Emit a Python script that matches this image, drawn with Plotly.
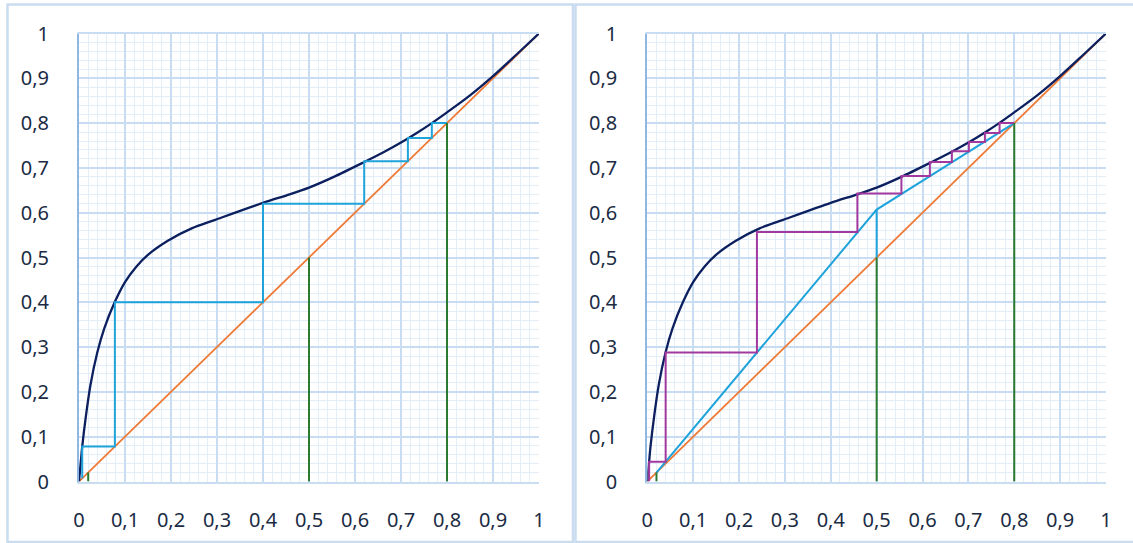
import plotly.graph_objects as go

# ---- data ----
eq_x = [0, 0.004, 0.007, 0.015, 0.025, 0.040, 0.055, 0.078, 0.100, 0.125, 0.151, 0.194, 0.245, 0.296,
        0.40, 0.458, 0.5, 0.554, 0.616, 0.664, 0.701, 0.736, 0.767, 0.8, 0.85, 0.9, 0.95, 1]
eq_y = [0, 0.045, 0.078, 0.146, 0.216, 0.289, 0.342, 0.401, 0.445, 0.480, 0.507, 0.538, 0.565, 0.584,
        0.622, 0.641, 0.656, 0.680, 0.711, 0.736, 0.757, 0.779, 0.800, 0.824, 0.862, 0.905, 0.952, 1]

diag_x = [0, 1]
diag_y = [0, 1]

compositions = [0.02, 0.5, 0.8]          # xW, xF, xD

left_steps_x = [0.8, 0.767, 0.767, 0.715, 0.715, 0.62, 0.62, 0.40, 0.40, 0.078, 0.078, 0.007, 0.007]
left_steps_y = [0.8, 0.8, 0.767, 0.767, 0.715, 0.715, 0.62, 0.62, 0.40, 0.40, 0.078, 0.078, 0.007]

op_x = [0.02, 0.5, 0.8]
op_y = [0.02, 0.607, 0.8]
qline_x = [0.5, 0.5]
qline_y = [0.5, 0.607]

right_steps_x = [0.8, 0.768, 0.768, 0.736, 0.736, 0.701, 0.701, 0.664, 0.664, 0.616, 0.616,
                 0.554, 0.554, 0.458, 0.458, 0.239, 0.239, 0.040, 0.040, 0.004, 0.004]
right_steps_y = [0.8, 0.8, 0.778, 0.778, 0.758, 0.758, 0.737, 0.737, 0.713, 0.713, 0.682,
                 0.682, 0.643, 0.643, 0.557, 0.557, 0.288, 0.288, 0.044, 0.044, 0.0]

tick_vals = [0, 0.1, 0.2, 0.3, 0.4, 0.5, 0.6, 0.7, 0.8, 0.9, 1]
tick_text = ["0", "0,1", "0,2", "0,3", "0,4", "0,5", "0,6", "0,7", "0,8", "0,9", "1"]

# ---- styles ----
NAVY = "#0c1f5e"
ORANGE = "#ee7a36"
LBLUE = "#1fa3da"
PURPLE = "#a2399f"
GREEN = "#2a7a30"
MAJOR = "#c8ddf2"
MINOR = "#e4eef9"
AXIS = "#8fb7e4"
TXT = "#1b2b44"

W, H = 1133, 543
fig = go.Figure()


def add_common(xa, ya, steps_x, steps_y, steps_color, right=False):
    fig.add_trace(go.Scatter(x=diag_x, y=diag_y, mode="lines", xaxis=xa, yaxis=ya,
                             line=dict(color=ORANGE, width=1.8), hoverinfo="skip"))
    if right:
        fig.add_trace(go.Scatter(x=op_x, y=op_y, mode="lines", xaxis=xa, yaxis=ya,
                                 line=dict(color=LBLUE, width=2), hoverinfo="skip"))
        fig.add_trace(go.Scatter(x=qline_x, y=qline_y, mode="lines", xaxis=xa, yaxis=ya,
                                 line=dict(color=LBLUE, width=2), hoverinfo="skip"))
    fig.add_trace(go.Scatter(x=eq_x, y=eq_y, mode="lines", xaxis=xa, yaxis=ya,
                             line=dict(color=NAVY, width=2.3, shape="spline", smoothing=0.8),
                             hoverinfo="skip"))
    fig.add_trace(go.Scatter(x=steps_x, y=steps_y, mode="lines", xaxis=xa, yaxis=ya,
                             line=dict(color=steps_color, width=2), hoverinfo="skip"))
    for c in compositions:
        fig.add_trace(go.Scatter(x=[c, c], y=[0, c], mode="lines", xaxis=xa, yaxis=ya,
                                 line=dict(color=GREEN, width=2), hoverinfo="skip"))


add_common("x", "y", left_steps_x, left_steps_y, LBLUE)
add_common("x2", "y2", right_steps_x, right_steps_y, PURPLE, right=True)

y0 = (H - 481.5) / H
y1 = (H - 33.5) / H
FONT = dict(family="Noto Sans", size=20, color=TXT)


def xaxis(domain, anchor):
    return dict(domain=domain, anchor=anchor, range=[0, 1], tickvals=tick_vals, ticktext=tick_text,
                showgrid=True, gridcolor=MAJOR, gridwidth=1.6, zeroline=False,
                showline=True, linecolor=MAJOR, linewidth=1.6, mirror=True,
                minor=dict(dtick=0.02, showgrid=True, gridcolor=MINOR, gridwidth=1.2),
                ticks="", ticklabelstandoff=20, fixedrange=True, automargin=False,
                tickfont=FONT)


def yaxis(anchor):
    return dict(domain=[y0, y1], anchor=anchor, range=[0, 1], tickvals=tick_vals, ticktext=tick_text,
                showgrid=True, gridcolor=MAJOR, gridwidth=1.6, zeroline=False,
                showline=True, linecolor=AXIS, linewidth=2,
                minor=dict(dtick=0.02, showgrid=True, gridcolor=MINOR, gridwidth=1.2),
                ticks="", ticklabelstandoff=24, fixedrange=True, automargin=False,
                tickfont=FONT)


fig.update_layout(
    width=W, height=H, margin=dict(l=0, r=0, t=0, b=0, autoexpand=False),
    paper_bgcolor="white", plot_bgcolor="white", showlegend=False,
    xaxis=xaxis([79 / W, 539 / W], "y"),
    yaxis=yaxis("x"),
    xaxis2=xaxis([647.3 / W, 1106 / W], "y2"),
    yaxis2=yaxis("x2"),
    shapes=[
        dict(type="rect", xref="paper", yref="paper", x0=7.5 / W, x1=573 / W,
             y0=(H - 542) / H, y1=(H - 4.5) / H, line=dict(color="#c9dcf0", width=2.5), layer="below"),
        dict(type="rect", xref="paper", yref="paper", x0=575.5 / W, x1=1140 / W,
             y0=(H - 542) / H, y1=(H - 4.5) / H, line=dict(color="#c9dcf0", width=2.5), layer="below"),
    ],
)

fig.write_html(
    "out.html",
    config={"displayModeBar": False},
    post_script="document.body.style.margin='0';document.body.style.overflow='hidden';",
)
